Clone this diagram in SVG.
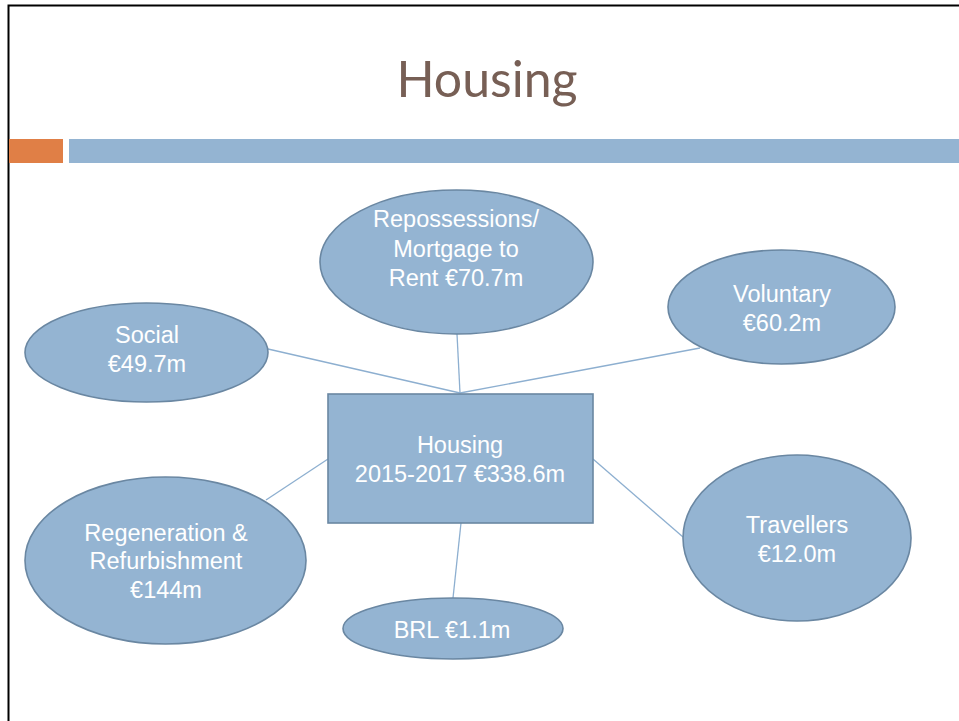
<svg xmlns="http://www.w3.org/2000/svg" width="959" height="721" viewBox="0 0 959 721">
<style>
.node{fill:#94B4D2;stroke:#6A87A2;stroke-width:1.6}
.lbl{font-family:"Liberation Sans",Arial,sans-serif;font-size:23.5px;fill:#FFFFFF;text-anchor:middle}
.conn line{stroke:#8DAFD0;stroke-width:1.3}
.title{font-family:Lato,"Open Sans",sans-serif;font-size:50px;fill:#775F55;text-anchor:middle}
</style>
<rect x="0" y="0" width="959" height="721" fill="#FFFFFF"/>
<path d="M8.5 721 V5.5 H959" fill="none" stroke="#000000" stroke-width="2"/>
<text class="title" x="487" y="97">Housing</text>
<rect x="9" y="139" width="54" height="24" fill="#E07F46"/>
<rect x="69" y="139" width="890" height="24" fill="#94B4D2"/>
<g id="connectors" class="conn">
<line x1="268" y1="349" x2="460" y2="393"/>
<line x1="457" y1="334" x2="460" y2="393"/>
<line x1="700" y1="348" x2="460" y2="393"/>
<line x1="266" y1="500" x2="328" y2="459" stroke-width="1"/>
<line x1="593" y1="459" x2="683" y2="537" stroke-width="1"/>
<line x1="461" y1="523" x2="453" y2="598"/>
</g>
<g id="center">
<rect class="node" x="328" y="394" width="265" height="129"/>
<text class="lbl" x="460" y="453">Housing</text>
<text class="lbl" x="460" y="482">2015-2017 €338.6m</text>
</g>
<g id="repossessions">
<ellipse class="node" cx="456.5" cy="262" rx="136.5" ry="72"/>
<text class="lbl" x="456" y="227">Repossessions/</text>
<text class="lbl" x="456" y="257">Mortgage to</text>
<text class="lbl" x="456" y="286">Rent €70.7m</text>
</g>
<g id="social">
<ellipse class="node" cx="146.5" cy="352.5" rx="121.5" ry="49.5"/>
<text class="lbl" x="147" y="343">Social</text>
<text class="lbl" x="147" y="372">€49.7m</text>
</g>
<g id="voluntary">
<ellipse class="node" cx="781.5" cy="307" rx="113.5" ry="57"/>
<text class="lbl" x="782" y="302">Voluntary</text>
<text class="lbl" x="782" y="331">€60.2m</text>
</g>
<g id="regeneration">
<ellipse class="node" cx="165.5" cy="560.5" rx="140.5" ry="83.5"/>
<text class="lbl" x="166" y="541">Regeneration &amp;</text>
<text class="lbl" x="166" y="569">Refurbishment</text>
<text class="lbl" x="166" y="598">€144m</text>
</g>
<g id="travellers">
<ellipse class="node" cx="797" cy="538" rx="114" ry="83"/>
<text class="lbl" x="797" y="533">Travellers</text>
<text class="lbl" x="797" y="562">€12.0m</text>
</g>
<g id="brl">
<ellipse class="node" cx="453" cy="628.5" rx="110" ry="30.5"/>
<text class="lbl" x="452" y="638">BRL €1.1m</text>
</g>
</svg>
